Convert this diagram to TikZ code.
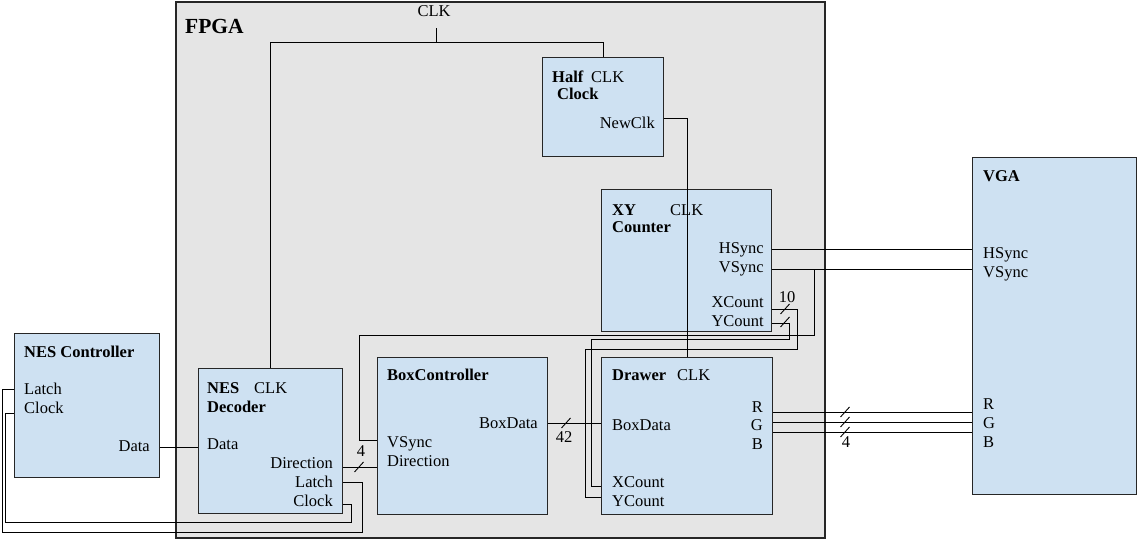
\documentclass[tikz,border=0pt]{standalone}
\usepackage{fontspec}
\setmainfont{Liberation Serif}
\usepackage{tikz}
\usetikzlibrary{positioning}

\definecolor{boxblue}{RGB}{206,225,242}
\definecolor{fpgagray}{RGB}{229,229,229}

\tikzset{
  block/.style={draw=black!85, fill=boxblue, line width=1pt, inner sep=0pt, anchor=north west},
  lbl/.style={inner sep=0pt, anchor=base west, font=\fontsize{16.5}{19}\selectfont},
  rlbl/.style={lbl, anchor=base east},
  title/.style={lbl, font=\fontsize{16.5}{19}\selectfont\bfseries},
  wire/.style={line width=0.9pt},
  busmark/.pic={\draw[wire] (-4.5,5) -- (4.5,-5);}
}

\begin{document}
\begin{tikzpicture}[x=1pt, y=-1pt]
    \useasboundingbox (0,0) rectangle (1137,540);

    % FPGA
    \node[block, fill=fpgagray, line width=2pt, minimum width=649pt, minimum height=536pt] (fpga) at (175,1) {};
    \node[title, font=\fontsize{21.5}{24}\selectfont\bfseries] (fpgat) at (185,34) {FPGA};

    % blocks
    \node[block, minimum width=121pt, minimum height=99pt] (half) at (542,57) {};
    \node[block, minimum width=170pt, minimum height=142pt] (xy) at (601,189) {};
    \node[block, minimum width=171pt, minimum height=157pt] (drw) at (601,357) {};
    \node[block, minimum width=170pt, minimum height=157pt] (box) at (377,357) {};
    \node[block, minimum width=144pt, minimum height=145pt] (dec) at (198,368) {};
    \node[block, minimum width=145pt, minimum height=144pt] (nesc) at (14,333) {};
    \node[block, minimum width=164pt, minimum height=337pt] (vga) at (972,157) {};

    % clock
    \node[lbl, anchor=base] (clk) at (434,17) {CLK};
    \draw[wire] ([yshift=-11pt]clk.south -| 436,0) -- (436,42);
    \draw[wire] (dec.north -| 270,0) -- (270,42) -| (half.north -| 603,0);
    \draw[wire] (half.east |- 0,118) -| (drw.north -| 687,0);

    % sync
    \draw[wire] (xy.east |- 0,249) -- (vga.west |- 0,249);
    \draw[wire] (xy.east |- 0,269) -- (vga.west |- 0,269);
    \draw[wire] (814,269) -- (814,335) -| (359,440) -- (box.west |- 0,440);

    % counts
    \draw[wire] (xy.east |- 0,309) -| (797,349) -| (585,497) -- (drw.west |- 0,497);
    \draw[wire] (xy.east |- 0,323) -| (789,339) -| (591,486) -- (drw.west |- 0,486);
    \pic at (785,309) {busmark};
    \pic at (785,322) {busmark};
    \node[lbl, anchor=base] (n10) at (787,302) {10};

    % box data and direction
    \draw[wire] (box.east |- 0,423) -- (drw.west |- 0,423);
    \pic at (566,423) {busmark};
    \node[lbl, anchor=base] (n42) at (564,442) {42};
    \draw[wire] (dec.east |- 0,467) -- (box.west |- 0,467);
    \pic at (359,467) {busmark};
    \node[lbl, anchor=base] (n4a) at (361,456) {4};

    % controller
    \draw[wire] (nesc.east |- 0,447) -- (dec.west |- 0,447);
    \draw[wire] (nesc.west |- 0,389) -- (2,389) -- (2,532) -| (362,482) -- (dec.east |- 0,482);
    \draw[wire] (nesc.west |- 0,413) -- (5,413) -- (5,522) -| (351,504) -- (dec.east |- 0,504);

    % colour
    \foreach \y in {412,422,432} {
        \draw[wire] (drw.east |- 0,\y) -- (vga.west |- 0,\y);
        \pic at (845,\y) {busmark};
    }
    \node[lbl, anchor=base] (n4b) at (846,447) {4};

    % Half Clock
    \node[title] (halft) at (552,83) {Half};
    \node[lbl] (halfclk) at (591,83) {CLK};
    \node[title] (halft2) at (557,100) {Clock};
    \node[rlbl] (halfnew) at (655,129) {NewClk};

    % XY Counter
    \node[title] (xyt) at (612,215) {XY};
    \node[lbl] (xyclk) at (670,215) {CLK};
    \node[title] (xyt2) at (612,233) {Counter};
    \node[rlbl] (xyhs) at (764,253) {HSync};
    \node[rlbl] (xyvs) at (764,272) {VSync};
    \node[rlbl] (xyxc) at (764,307) {XCount};
    \node[rlbl] (xyyc) at (764,326) {YCount};

    % Drawer
    \node[title] (drwt) at (612,380) {Drawer};
    \node[lbl] (drwclk) at (677,380) {CLK};
    \node[lbl] (drwbd) at (612,430) {BoxData};
    \node[rlbl] (drwr) at (763,412) {R};
    \node[rlbl] (drwg) at (763,430) {G};
    \node[rlbl] (drwb) at (763,449) {B};
    \node[lbl] (drwxc) at (612,487) {XCount};
    \node[lbl] (drwyc) at (612,506) {YCount};

    % BoxController
    \node[title] (boxt) at (387,380) {BoxController};
    \node[rlbl] (boxbd) at (538,428) {BoxData};
    \node[lbl] (boxvs) at (387,447) {VSync};
    \node[lbl] (boxdir) at (387,466) {Direction};

    % NES Decoder
    \node[title] (dect) at (207,393) {NES};
    \node[lbl] (decclk) at (254,393) {CLK};
    \node[title] (dect2) at (207,412) {Decoder};
    \node[lbl] (decdata) at (207,449) {Data};
    \node[rlbl] (decdir) at (333,468) {Direction};
    \node[rlbl] (declatch) at (333,487) {Latch};
    \node[rlbl] (decclock) at (333,506) {Clock};

    % NES Controller
    \node[title] (nesct) at (24,357) {NES Controller};
    \node[lbl] (nesclatch) at (24,394) {Latch};
    \node[lbl] (nescclock) at (24,413) {Clock};
    \node[rlbl] (nescdata) at (150,451) {Data};

    % VGA
    \node[title] (vgat) at (983,182) {VGA};
    \node[lbl] (vgahs) at (983,258) {HSync};
    \node[lbl] (vgavs) at (983,277) {VSync};
    \node[lbl] (vgar) at (983,409) {R};
    \node[lbl] (vgag) at (983,428) {G};
    \node[lbl] (vgab) at (983,447) {B};

\end{tikzpicture}
\end{document}
